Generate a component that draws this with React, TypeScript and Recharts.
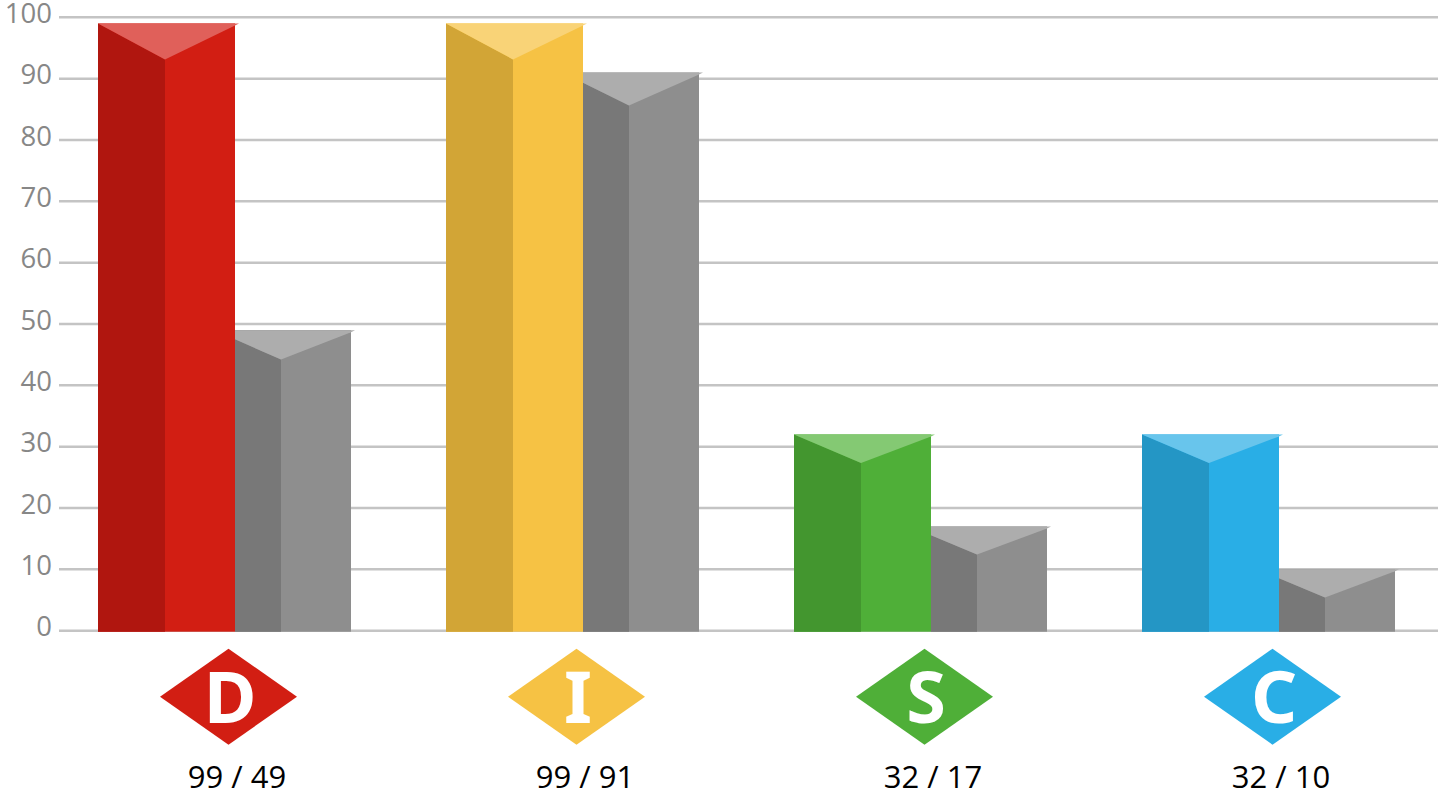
import React from 'react';
import { BarChart, Bar, XAxis, YAxis, CartesianGrid } from 'recharts';

const categories = ['D', 'I', 'S', 'C'];
const firstValues = [99, 99, 32, 32];
const secondValues = [49, 91, 17, 10];
const yTicks = [0, 10, 20, 30, 40, 50, 60, 70, 80, 90, 100];

const frontColors = ['#D21E13', '#F6C244', '#4FAF38', '#29AEE6'];
const sideColors = ['#B0160F', '#D2A536', '#43962F', '#2496C5'];
const topColors = ['#E0605A', '#F9D377', '#84C973', '#68C5EC'];
const greyFaces = { front: '#8E8E8E', side: '#787878', top: '#ADADAD' };

const FONT = '"Open Sans", sans-serif';
const BAR_W = 137;
const OVERLAP = 21;

const data = categories.map((name, i) => ({
  name,
  first: firstValues[i],
  second: secondValues[i],
}));

// fold of the fake 3d prism, taller bars get a slightly deeper top
const foldDepth = (v: number) => (v > 95 ? 36 : 28 + 0.0006 * v * v);

function Prism({ x, y, width, height, value, front, side, top, clipLeft = 0 }: any) {
  const val = Array.isArray(value) ? value[1] - value[0] : value;
  const depth = foldDepth(val);
  const base = y + height + 1;
  const foldX = Math.round(x + width * 0.489);
  const apex = y + depth;
  const left = Math.round(x + clipLeft);
  const right = Math.round(x + width);
  const slopeL = depth / (foldX - x);
  const leftTop = y + clipLeft * slopeL;
  return (
    <g>
      <rect x={left} y={y} width={right - left} height={base - y} fill={front} />
      <polygon points={`${left},${leftTop} ${foldX},${apex} ${foldX},${base} ${left},${base}`} fill={side} />
      <polygon points={`${left},${leftTop} ${left},${y} ${right + 4},${y} ${right},${y + 2} ${foldX},${apex}`} fill={top} />
    </g>
  );
}

function ColorBar(props: any) {
  const i = props.index;
  return <Prism {...props} front={frontColors[i]} side={sideColors[i]} top={topColors[i]} />;
}

function GreyBar(props: any) {
  return <Prism {...props} {...greyFaces} clipLeft={OVERLAP} />;
}

function ValueTick({ x, y, payload }: any) {
  return (
    <text x={x + 1} y={y - 4} dy="0.355em" textAnchor="end" fontFamily={FONT} fontSize={27.5} fill="#878787">
      {payload.value}
    </text>
  );
}

function DiamondTick({ x, y, payload, index }: any) {
  const cx = x + 4.5;
  const cy = y + 58;
  return (
    <g>
      <polygon
        points={`${cx - 68.5},${cy} ${cx},${cy - 48} ${cx + 68.5},${cy} ${cx},${cy + 48}`}
        fill={frontColors[index]}
      />
      <text x={cx + 1.5} y={cy + 26} textAnchor="middle" fontFamily='"Noto Sans", sans-serif' fontWeight={700} fontSize={72} fill="#FFFFFF">
        {payload.value}
      </text>
      <text x={x + 13} y={cy + 91} textAnchor="middle" fontFamily={FONT} fontSize={31} fill="#000000">
        {`${firstValues[index]} / ${secondValues[index]}`}
      </text>
    </g>
  );
}

export default function App() {
  return (
    <div style={{ position: 'absolute', left: 0, top: 0, width: 1455, height: 798, background: '#fff' }}>
      <BarChart
        width={1455}
        height={798}
        data={data}
        margin={{ top: 17.3, right: 17, bottom: 0.3, left: 0 }}
        barSize={BAR_W}
        barGap={-OVERLAP}
      >
        <CartesianGrid vertical={false} stroke="#C4C4C4" strokeWidth={2.5} />
        <XAxis
          dataKey="name"
          height={167}
          axisLine={false}
          tickLine={false}
          padding={{ left: -9, right: -4 }}
          tick={DiamondTick}
          interval={0}
        />
        <YAxis
          width={59}
          domain={[0, 100]}
          ticks={yTicks}
          axisLine={false}
          tickLine={false}
          tickMargin={2}
          tick={ValueTick}
        />
        <Bar dataKey="first" isAnimationActive={false} shape={ColorBar} />
        <Bar dataKey="second" isAnimationActive={false} shape={GreyBar} />
      </BarChart>
    </div>
  );
}
